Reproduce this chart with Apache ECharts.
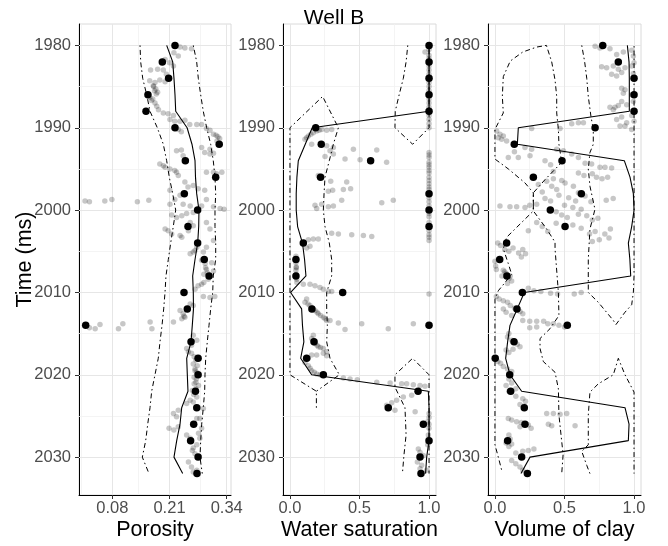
<!DOCTYPE html>
<html><head><meta charset="utf-8">
<script src="https://cdn.jsdelivr.net/npm/echarts@6/dist/echarts.min.js"></script>
<style>html,body{margin:0;padding:0;background:#fff}#c{width:668px;height:546px}</style>
</head><body><div id="c"></div>
<script>
// ---------- DATA ----------
const title = 'Well B';
const times = [1980,1982,1984,1986,1988,1990,1992,1994,1996,1998,2000,2002,2004,2006,2008,2010,2012,2014,2016,2018,2020,2022,2024,2026,2028,2030,2032];
const yTicks = [1980,1990,2000,2010,2020,2030];
const yMinor = [1985,1995,2005,2015,2025];

// Porosity
const porTicks = [0.08,0.21,0.34];
const porMinor = [0.015,0.145,0.275];
const porObs = [0.2225,0.1937,0.208,0.161,0.1566,0.2225,0.323,0.246,0.315,0.2437,0.274,0.252,0.274,0.289,0.30,0.243,0.2505,0.0195,0.259,0.275,0.275,0.269,0.272,0.265,0.258,0.275,0.2725];
const porLine = [0.2036,0.2173,0.2202,0.2225,0.2241,0.25,0.2611,0.268,0.2691,0.2718,0.277,0.2764,0.2741,0.268,0.2627,0.2641,0.2645,0.2618,0.2589,0.2491,0.2505,0.252,0.2377,0.2339,0.2264,0.2202,0.24];
const porLow = [0.143,0.1445,0.1491,0.1582,0.1657,0.1823,0.1959,0.2036,0.2095,0.2173,0.2241,0.2186,0.2127,0.2073,0.202,0.1998,0.1968,0.193,0.1884,0.1845,0.177,0.1695,0.1657,0.1605,0.1559,0.1482,0.1634];
const porHigh = [0.2641,0.2718,0.2755,0.2809,0.2868,0.2945,0.3036,0.3095,0.3134,0.315,0.3134,0.3134,0.315,0.315,0.3095,0.3082,0.3036,0.2998,0.2959,0.2923,0.2907,0.29,0.2868,0.2832,0.2809,0.2793,0.2845];
const porSamples = [[0.234,1980.2],[0.245,1980.3],[0.26,1980.4],[0.22,1980.9],[0.23,1981.3],[0.2,1981.7],[0.21,1982.1],[0.219,1982.5],[0.167,1983.0],[0.183,1982.9],[0.196,1983.0],[0.203,1983.5],[0.165,1984.3],[0.177,1984.5],[0.188,1984.2],[0.2,1984.4],[0.173,1984.9],[0.179,1985.3],[0.183,1985.7],[0.176,1985.5],[0.165,1986.3],[0.169,1986.7],[0.177,1987.0],[0.181,1987.4],[0.185,1987.8],[0.174,1985.0],[0.18,1985.9],[0.172,1986.5],[0.196,1988.2],[0.207,1988.3],[0.219,1988.5],[0.211,1989.0],[0.222,1989.2],[0.234,1989.2],[0.245,1989.1],[0.256,1989.6],[0.272,1989.6],[0.283,1989.6],[0.294,1990.1],[0.302,1990.3],[0.31,1990.8],[0.316,1990.9],[0.32,1991.1],[0.324,1991.3],[0.318,1991.6],[0.23,1990.2],[0.237,1990.5],[0.283,1992.4],[0.302,1992.6],[0.29,1993.0],[0.302,1993.2],[0.31,1993.1],[0.226,1992.8],[0.237,1992.7],[0.241,1993.4],[0.188,1994.4],[0.196,1994.6],[0.2,1994.8],[0.211,1995.0],[0.222,1995.2],[0.226,1995.4],[0.23,1995.8],[0.294,1995.4],[0.31,1995.4],[0.317,1995.6],[0.329,1995.4],[0.245,1996.6],[0.252,1997.2],[0.264,1997.0],[0.275,1997.4],[0.29,1997.6],[0.211,1997.6],[0.234,1998.2],
[0.018,1998.9],[0.028,1999.0],[0.063,1998.9],[0.079,1998.7],[0.137,1999.0],[0.163,1998.8],[0.31,1999.6],[0.325,1999.8],[0.334,1999.9],[0.211,1999.3],[0.222,1998.7],[0.241,1999.3],[0.257,1999.5],[0.283,1999.5],[0.294,1998.7],[0.215,2000.6],[0.226,2000.9],[0.238,2000.7],[0.249,2000.4],[0.264,2000.3],[0.2,2002.3],[0.207,2002.5],[0.215,2002.9],[0.234,2003.1],[0.238,2003.3],[0.257,2001.5],[0.264,2001.9],[0.253,2002.5],[0.294,2001.5],[0.302,2002.3],[0.272,2004.5],[0.264,2005.1],[0.257,2005.3],[0.268,2004.9],[0.31,2003.7],[0.294,2004.5],[0.287,2005.1],[0.283,2006.1],[0.291,2006.5],[0.294,2007.2],[0.288,2007.8],[0.298,2008.4],[0.283,2009.0],[0.275,2009.2],[0.288,2008.8],[0.292,2007.0],[0.296,2007.6],[0.306,2006.4],[0.31,2007.4],[0.268,2009.6],[0.287,2010.5],[0.302,2010.6],[0.313,2010.5],[0.257,2011.4],[0.264,2011.6],[0.234,2012.2],[0.241,2012.6],[0.245,2013.0],[0.238,2013.2],[0.243,2012.9],[0.166,2013.6],[0.17,2014.4],[0.219,2013.6],[0.028,2014.3],[0.041,2014.4],[0.052,2013.9],[0.094,2014.4],[0.104,2013.8],[0.264,2015.2],[0.272,2015.8],[0.26,2016.4],[0.249,2016.8],[0.253,2017.2],[0.26,2017.4],[0.266,2017.8],[0.27,2018.2],[0.273,2018.9],[0.268,2019.5],[0.264,2018.7],[0.268,2019.3],[0.272,2019.7],[0.266,2020.3],[0.271,2020.5],[0.27,2020.9],[0.276,2021.3],[0.266,2021.1],[0.27,2021.7],[0.262,2021.9],[0.265,2022.4],[0.257,2023.1],[0.264,2023.3],[0.249,2023.5],[0.272,2022.7],[0.219,2024.7],[0.226,2025.1],[0.23,2024.3],[0.287,2024.1],[0.279,2025.3],[0.272,2025.3],[0.283,2026.5],[0.276,2027.1],[0.279,2027.7],[0.209,2026.5],[0.22,2026.7],[0.23,2026.3],[0.249,2027.3],[0.257,2027.7],[0.272,2028.5],[0.264,2028.9],[0.268,2029.6],[0.262,2029.2],[0.253,2030.6],[0.26,2031.2],[0.272,2031.6],[0.264,2031.8]];

// Water saturation
const unitTicks = [0,0.5,1];
const unitMinor = [0.25,0.75];
const swObs = [1,1,1,1,1,0.185,0.225,0.58,0.22,1,1,1,0.096,0.043,0.043,0.379,0.158,1,0.173,0.12,0.24,0.921,0.707,0.959,1,0.935,0.942];
const swLine = [1,1,1,1,1,0.16,0.11,0.06,0.05,0.045,0.045,0.055,0.09,0.105,0.115,0.005,0.084,0.09,0.1,0.077,0.156,0.995,1,1,1,0.983,0.975];
const swBandA = [[0.847,1980],[0.835,1982],[0.815,1984],[0.785,1986],[0.757,1988],[0.755,1990],[0.882,1992],[1,1990],[1,1980]];
const swBandB = [[0.19,2024],[0.19,2022],[0,2020],[0,1990],[0.235,1986.2],[0.348,1990],[0.312,1992],[0.283,1994],[0.252,1996],[0.245,1998],[0.24,2000],[0.252,2002],[0.283,2004],[0.3,2006],[0.3,2008],[0.264,2010],[0.264,2012],[0.269,2014],[0.264,2016],[0.288,2018],[0.355,2020],[0.19,2022]];
const swBandC = [[0.81,2031.7],[0.82,2029.7],[0.835,2027.3],[0.827,2024],[0.755,2021.5],[0.755,2020],[0.882,2018],[1,2020],[1,2032]];
const swSamples = [[0.971,1980.8],[1,1980.5],[1,1981.2],[1,1981.6],[1,1982.5],[1,1983],[1,1983.5],[1,1984.5],[1,1985],[1,1985.5],[1,1986.5],[1,1987],[1,1987.5],[1,1988.5],[1,1989],[1,1989.5],[1,1990],[0.108,1991.4],[0.12,1991.2],[0.132,1991.0],[0.15,1990.8],[0.168,1990.6],[0.192,1990.4],[0.21,1990.3],[0.228,1990.2],[0.264,1990.3],[0.3,1990.2],[0.156,1992],[0.264,1992.2],[0.312,1992.4],[0.456,1992.6],[0.624,1992.7],[0.288,1992.8],[0.252,1993.5],[0.312,1993.2],[0.396,1993.8],[0.504,1993.9],[0.695,1994.2],[0.228,1995.9],[0.204,1995.8],[0.293,1996.5],[0.408,1996.6],[0.276,1997.7],[0.307,1997.6],[0.384,1997.5],[0.436,1997.4],[0.18,1999.4],[0.192,1999.8],[0.228,1999.3],[0.276,1999.6],[0.312,1999.5],[0.372,1998.8],[0.66,1999.1],[0.743,1998.8],[0.3,2002.8],[0.348,2002.9],[0.444,2003.0],[0.528,2003.1],[0.588,2003.2],[0.132,2003.6],[0.168,2003.5],[0.204,2003.5],[0.12,2004.6],[0.144,2004.4],[1,1993],[1,1993.3],[1,1993.6],[1,1994.2],[1,1994.5],[1,1994.8],[1,1995.2],[1,1995.5],[1,1996],[1,1996.4],[1,1996.8],[1,1997.2],[1,1997.5],[1,1998.5],[1,1999],[1,1999.5],[1,2000.4],[1,2000.8],[1,2001.5],[1,2002.5],[1,2003],[1,2003.3],[1,2003.7],[0.043,2005.6],[0.043,2006.4],[0.045,2006.9],[0.043,2007.3],[0.045,2007.8],[0.048,2008.4],[0.044,2006.0],[0.046,2007.0],[0.05,2008.8],[0.096,2009.0],[0.144,2009.0],[0.18,2009.2],[0.216,2009.4],[0.24,2009.6],[0.276,2009.9],[0.3,2009.9],[0.12,2010.8],[0.108,2011.2],[0.13,2011.4],[0.144,2011.6],[0.16,2011.9],[0.18,2012.2],[0.195,2012.4],[0.204,2012.6],[0.22,2012.8],[0.24,2013.0],[0.252,2013.2],[0.264,2013.4],[0.288,2013.4],[0.348,2013.7],[0.396,2014.5],[0.516,2013.8],[0.707,2014.4],[0.887,2013.8],[1,2010.2],[0.168,2015.2],[0.156,2015.6],[0.165,2015.9],[0.18,2016.2],[0.195,2016.4],[0.204,2016.6],[0.22,2016.7],[0.24,2016.8],[0.264,2017.2],[0.132,2018.0],[0.156,2017.6],[0.192,2017.6],[0.24,2017.4],[0.264,2017.7],[0.108,2018.5],[0.132,2018.9],[0.145,2019.2],[0.156,2019.5],[0.175,2019.7],[0.192,2019.9],[0.216,2020.0],[0.384,2020.4],[0.432,2020.5],[0.484,2020.6],[0.624,2020.9],[0.72,2021.0],[0.803,2021.1],[0.839,2021.1],[0.887,2021.2],[0.935,2021.3],[0.971,2021.4],[0.875,2022.5],[0.815,2022.7],[0.767,2023.1],[0.731,2023.4],[0.695,2023.7],[0.7,2024.1],[0.755,2024.3],[0.9,2024.5],[1,2024.7],[0.99,2025.7],[1,2026.5],[0.995,2027.3],[0.99,2028.5],[1,2025.2],[1,2026],[0.995,2027.8],[0.923,2029.0],[0.935,2029.4],[0.959,2029.8],[0.916,2030.6],[0.947,2031.0],[0.935,2031.4],[0.983,2031.6]];

// Volume of clay
const vcObs = [0.775,0.887,1,1,1,0.72,0.139,0.482,0.276,0.621,0.398,0.504,0.084,0.034,0.086,0.197,0.158,0.52,0.137,0.002,0.106,0.113,0.211,0.216,0.091,0.192,0.233];
const vcLine = [0.952,0.964,0.966,0.966,0.966,0.168,0.161,0.93,0.971,0.995,1,0.983,0.959,0.97,0.976,0.211,0.16,0.108,0.091,0.077,0.108,0.192,0.935,0.964,0.959,0.252,0.187];
const vcBand1 = [[0.37,1980],[0.3,1980.2],[0.2,1980.8],[0.11,1981.9],[0.06,1983.8],[0.053,1986.2],[0.06,1988.2],[0,1990.2],[0,1993.8],[0.096,1995],[0.216,1996.7],[0.276,1997.9],[0.276,2000.1],[0.144,2002.3],[0.084,2003.3],[0.06,2004.7],[0.096,2006.5],[0.12,2007.8],[0.024,2009.8],[0,2010.8],[0,2028.5],[0.024,2030],[0.05,2031.7]];
const vcBand2 = [[0.37,1980],[0.408,1982],[0.432,1984.2],[0.444,1986.2],[0.444,1988.2],[0.456,1990.2],[0.46,1992],[0.48,1994.2],[0.36,1996.3],[0.276,1997.9],[0.276,2000.1],[0.372,2002.3],[0.432,2003.9],[0.432,2004.7],[0.456,2010],[0.46,2012.8],[0.396,2014.4],[0.324,2015.6],[0.324,2016.8],[0.348,2018.4],[0.432,2019.7],[0.456,2021.7],[0.46,2024.9],[0.49,2029.7],[0.48,2032]];
const vcBand3 = [[0.624,1980],[0.645,1982],[0.66,1984],[0.671,1986.2],[0.69,1988.6],[0.707,1990.2],[0.707,1992],[0.683,1993],[0.671,1995],[0.683,1997.1],[0.719,1999.9],[0.683,2002.3],[0.671,2006],[0.671,2010],[0.743,2011.2],[0.851,2013.4],[0.87,2013.9],[0.935,2012.4],[0.983,2011.5],[0.995,2010],[1,2008],[1,1980]];
const vcBand4 = [[0.683,2032],[0.66,2031],[0.624,2029.3],[0.671,2028.5],[0.671,2024.9],[0.683,2022.1],[0.743,2021.1],[0.851,2020],[0.887,2018],[0.935,2020],[1,2022.1],[1,2032]];
const vcSamples = [[0.72,1980.1],[0.755,1980.3],[0.827,1980.4],[0.875,1981.1],[0.923,1980.8],[0.983,1980.6],[0.995,1981.3],[1,1982.1],[0.983,1982.5],[0.995,1983.4],[0.767,1982.6],[0.803,1982.7],[0.851,1982.5],[0.887,1982.9],[0.911,1983.3],[0.935,1982.7],[0.839,1983.5],[0.875,1983.7],[0.911,1985.2],[0.935,1985.4],[0.923,1985.8],[0.983,1986.0],[0.995,1986.8],[0.947,1987.2],[0.911,1986.8],[0.887,1987.3],[0.863,1987.5],[0.851,1987.8],[0.827,1987.5],[0.983,1988.5],[1,1989.2],[0.911,1988.7],[0.875,1989.0],[0.899,1989.8],[0.947,1989.4],[0.935,1989.8],[0.983,1990.2],[0.012,1990.4],[0.036,1990.8],[0.06,1991.0],[0.084,1991.6],[0.024,1991.2],[0.048,1991.4],[0.264,1990.1],[0.468,1990.1],[0.552,1989.5],[0.6,1989.4],[0.636,1989.4],
[0.216,1992.4],[0.264,1992.6],[0.444,1992.6],[0.492,1992.8],[0.552,1993.2],[0.6,1993.6],[0.648,1994.3],[0.695,1994.4],[0.755,1994.8],[0.791,1994.8],[0.839,1994.9],[0.096,1993.6],[0.168,1993.6],[0.252,1993.4],[0.14,1992.9],[0.36,1994.0],[0.4,1994.5],[0.42,1995.3],[0.6,1995.5],[0.64,1995.8],[0.7,1995.6],[0.73,1996.0],[0.77,1996.2],[0.81,1996.0],[0.312,1996.9],[0.372,1996.5],[0.408,1997.1],[0.444,1997.5],[0.504,1996.7],[0.564,1997.1],[0.6,1997.9],[0.648,1998.3],[0.42,1996.2],[0.48,1996.4],[0.34,1997.8],[0.36,1998.6],[0.4,1998.9],[0.46,1998.2],[0.53,1998.5],[0.58,1998.9],[0.5,1999.4],[0.56,1999.7],[0.62,1999.9],[0.69,1999.0],[0.8,1998.8],[0.85,1998.6],[0.036,1999.5],[0.108,1999.6],[0.156,1999.6],[0.216,1999.7],[0.25,1999.4],[0.3,1999.3],[0.44,2000.2],[0.48,2000.6],[0.52,2000.9],[0.6,2000.5],[0.66,2000.7],[0.7,2001.2],[0.74,2001.0],[0.44,2001.6],[0.5,2002.0],[0.56,2001.8],[0.62,2002.2],[0.68,2002.9],[0.72,2002.6],[0.79,2002.9],[0.83,2002.3],[0.3,2001.5],[0.34,2002.0],[0.38,2002.6],[0.24,2002.5],[0.7,2003.8],[0.75,2003.6],[0.82,2003.4],
[0.02,2004.0],[0.04,2004.3],[0.07,2004.8],[0.1,2005.0],[0.13,2004.6],[0.2,2004.8],[0.22,2005.3],[0.19,2005.7],[0.17,2005.2],[0,2006.2],[0.005,2006.8],[0.01,2007.2],[0.06,2007.3],[0.08,2007.7],[0.1,2008.3],[0.12,2008.6],[0.09,2008.9],[0.05,2008.0],[0.07,2007.5],[0.11,2008.0],[0.24,2009.5],[0.28,2009.8],[0.33,2009.9],[0.4,2010.1],[0.45,2010.2],[0.57,2010.2],[0.62,2010.0],[0.01,2010.5],[0.03,2010.8],[0.06,2011.0],[0.09,2011.2],[0.11,2011.6],[0.14,2011.9],[0.18,2012.3],[0.2,2012.6],[0.06,2012.0],[0.08,2012.4],[0.12,2012.8],[0.2,2013.4],[0.25,2013.5],[0.3,2013.5],[0.35,2013.5],[0.38,2013.8],[0.42,2013.8],[0.46,2014.0],[0.5,2014.2],[0.3,2014.2],[0.25,2014.3],[0.1,2015.0],[0.09,2015.4],[0.12,2015.8],[0.16,2016.3],[0.18,2016.6],[0.13,2016.9],[0.1,2017.3],[0.08,2017.0],[0.14,2016.0],[0.02,2018.4],[0.04,2018.6],[0.06,2019.0],[0.09,2019.3],[0.12,2019.6],[0.1,2020.5],[0.12,2021.0],[0.08,2021.3],[0.15,2021.7],[0.1,2022.0],[0.15,2022.6],[0.2,2022.9],[0.22,2023.2],[0.18,2023.6],[0.21,2023.8],[0.372,2024.7],[0.42,2024.7],[0.468,2024.8],[0.516,2024.7],[0.384,2026.0],[0.408,2026.2],[0.576,2026.2],[0.096,2025.3],[0.12,2025.5],[0.156,2025.7],[0.19,2025.8],[0.24,2026.1],[0.26,2026.5],[0.18,2026.3],[0.1,2027.3],[0.11,2027.8],[0.08,2028.3],[0.1,2028.7],[0.12,2028.4],[0.15,2029.5],[0.2,2029.3],[0.24,2029.2],[0.28,2029.0],[0.12,2030.4],[0.15,2030.8],[0.18,2031.2],[0.2,2031.6],[0.24,2032.0]];

// ---------- BUILD ----------
const FONT = 'Liberation Sans, Arial, Helvetica, sans-serif';
const pair = (vals) => vals.map((v,i)=>[v, times[i]]);
const panels = [
  {left:79, width:152, min:0.0043, max:0.3498, ticks:porTicks, minor:porMinor, dec:2, name:'Porosity',
   samples:porSamples, obs:porObs, line:porLine, bands:[pair(porLow), pair(porHigh)]},
  {left:283, width:153, min:-0.05, max:1.05, ticks:unitTicks, minor:unitMinor, dec:1, name:'Water saturation',
   samples:swSamples, obs:swObs, line:swLine, bands:[swBandA, swBandB, swBandC]},
  {left:488, width:153, min:-0.05, max:1.05, ticks:unitTicks, minor:unitMinor, dec:1, name:'Volume of clay',
   samples:vcSamples, obs:vcObs, line:vcLine, bands:[vcBand1, vcBand2, vcBand3, vcBand4]}
];
const grids=[], xAxes=[], yAxes=[], series=[];
const majorLS = {color:'#E6E6E6', width:1, type:'solid'};
const minorLS = {color:'#F1F1F1', width:0.8, type:'solid'};
panels.forEach((p,i)=>{
  grids.push({left:p.left, top:24, width:p.width, height:473, show:true, borderColor:'#DADADA', borderWidth:1, backgroundColor:'transparent'});
  xAxes.push({gridIndex:i, type:'value', min:p.min, max:p.max,
    axisLine:{show:true, onZero:false, lineStyle:{color:'#000', width:1}},
    axisTick:{show:true, customValues:p.ticks, length:4, lineStyle:{color:'#333'}},
    axisLabel:{customValues:p.ticks, formatter:(v)=>Number(v).toFixed(p.dec), color:'#4D4D4D', fontSize:16.5, fontFamily:FONT, margin:5},
    splitLine:{show:false},
    name:p.name, nameLocation:'middle', nameGap:24, nameMoveOverlap:false,
    nameTextStyle:{fontSize:21.5, color:'#000', fontFamily:FONT}});
  yAxes.push({gridIndex:i, type:'value', inverse:true, min:1977.4, max:2034.6,
    axisLine:{show:true, onZero:false, lineStyle:{color:'#000', width:1}},
    axisTick:{show:true, customValues:yTicks, length:4, lineStyle:{color:'#333'}},
    axisLabel:{customValues:yTicks, formatter:(v)=>String(v), color:'#4D4D4D', fontSize:16.5, fontFamily:FONT, margin:8},
    splitLine:{show:false},
    name: i===0 ? 'Time (ms)' : '', nameLocation:'middle', nameGap:43, nameRotate:90, nameMoveOverlap:false,
    nameTextStyle:{fontSize:21.5, color:'#000', fontFamily:FONT}});
  const ml = [];
  p.minor.forEach(v=>ml.push({xAxis:v, lineStyle:minorLS}));
  yMinor.forEach(v=>ml.push({yAxis:v, lineStyle:minorLS}));
  p.ticks.forEach(v=>ml.push({xAxis:v, lineStyle:majorLS}));
  yTicks.forEach(v=>ml.push({yAxis:v, lineStyle:majorLS}));
  series.push({type:'scatter', xAxisIndex:i, yAxisIndex:i, data:p.samples, symbolSize:5.5,
    itemStyle:{color:'rgba(0,0,0,0.22)', opacity:1}, z:2, silent:true,
    markLine:{silent:true, symbol:'none', z:1, label:{show:false}, animation:false, data:ml}});
  p.bands.forEach(b=>{
    series.push({type:'line', xAxisIndex:i, yAxisIndex:i, data:b, symbol:'none', showSymbol:false, z:3, silent:true,
      lineStyle:{color:'#000', width:1, type:[1.5,3,5,3]}});
  });
  series.push({type:'line', xAxisIndex:i, yAxisIndex:i, data:pair(p.line), symbol:'none', showSymbol:false, z:3, silent:true,
    lineStyle:{color:'#000', width:1.1}});
  series.push({type:'scatter', xAxisIndex:i, yAxisIndex:i, data:pair(p.obs), symbolSize:7.5, z:4, silent:true,
    itemStyle:{color:'#000', opacity:1}});
});
const chart = echarts.init(document.getElementById('c'), null, {renderer:'canvas'});
chart.setOption({
  animation:false, backgroundColor:'#fff',
  title:{text:title, left:'center', top:3, textStyle:{fontSize:21, fontWeight:'normal', color:'#000', fontFamily:FONT}},
  grid:grids, xAxis:xAxes, yAxis:yAxes, series:series
});
</script></body></html>
